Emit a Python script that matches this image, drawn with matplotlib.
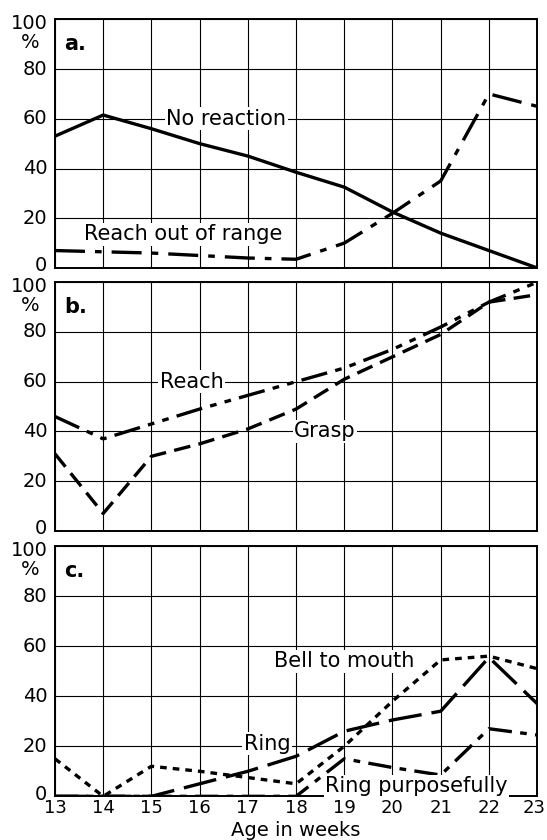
import matplotlib
matplotlib.use("Agg")
import matplotlib.pyplot as plt
import matplotlib.transforms as mtransforms

weeks = [13, 14, 15, 16, 17, 18, 19, 20, 21, 22, 23]

# Panel a
no_reaction = [53, 61.5, 56, 50, 45, 38.5, 32.5, 22.5, 14, 7, 0]
reach_out_of_range = [7, 6.5, 6, 5, 4, 3.5, 10, 22, 35, 70, 65]

# Panel b
reach = [46, 37, 43, 49, 54.5, 60, 65.5, 73, 82, 92, 100]
grasp = [31, 7, 30, 35, 41, 49, 61, 70, 79, 92, 95]

# Panel c
bell_to_mouth = [15, 0, 12, 10, 7.5, 5, 20, 38, 54.5, 56, 51]
ring = [0, 0, 0, 5, 10, 16, 26, 30.5, 34, 55.5, 37]
ring_purposefully = [0, 0, 0, 0, 0, 0, 15, 11.5, 8.5, 27, 24.5]

y_ticks = [0, 20, 40, 60, 80, 100]

plt.rcParams["font.family"] = "DejaVu Sans"
fig = plt.figure(figsize=(5.47, 8.4), dpi=100)

boxes = [
    [0.1005, 0.681, 0.8815, 0.296],
    [0.1005, 0.368, 0.8815, 0.296],
    [0.1005, 0.052, 0.8815, 0.298],
]
axs = [fig.add_axes(b) for b in boxes]

LW = 2.4
TICK_FS = 14
LABEL_FS = 15
white = dict(facecolor="white", edgecolor="none", pad=1)


def style(ax, letter, show_x):
    ax.set_xlim(13, 23)
    ax.set_ylim(0, 100)
    ax.set_xticks(weeks)
    ax.set_yticks(y_ticks)
    ax.set_xticklabels([])
    ax.set_yticklabels([])
    ax.grid(True, color="black", linewidth=0.8)
    ax.set_axisbelow(True)
    ax.tick_params(length=0)
    for s in ax.spines.values():
        s.set_linewidth(1.4)
    # y labels drawn by hand so "100" can sit a little below the top edge
    trans = ax.get_yaxis_transform()
    for v in y_ticks:
        t = trans
        if v == 100:
            t = mtransforms.offset_copy(trans, fig=fig, y=-4, units="dots")
        elif v == 0:
            t = mtransforms.offset_copy(trans, fig=fig, y=2, units="dots")
        ax.text(-0.016, v, str(v), transform=t, ha="right", va="center", fontsize=TICK_FS)
    ax.text(-0.052, 0.905, "%", transform=ax.transAxes, ha="center", va="center",
            fontsize=TICK_FS)
    ax.text(13.2, 90, letter, fontsize=15, fontweight="bold", ha="left", va="center",
            bbox=white)
    if show_x:
        xtrans = ax.get_xaxis_transform()
        for w in weeks:
            t = xtrans
            if w == weeks[-1]:
                t = mtransforms.offset_copy(xtrans, fig=fig, x=-3, units="dots")
            ax.text(w, -0.012, str(w), transform=t, ha="center", va="top", fontsize=13)


# a.
ax = axs[0]
style(ax, "a.", False)
ax.plot(weeks, no_reaction, color="black", lw=LW, solid_capstyle="round")
ax.plot(weeks, reach_out_of_range, color="black", lw=LW, dashes=(9, 3, 2, 3))
ax.text(16.55, 60, "No reaction", fontsize=LABEL_FS, ha="center", va="center", bbox=white)
ax.text(15.65, 13.5, "Reach out of range", fontsize=LABEL_FS, ha="center", va="center",
        bbox=white)

# b.
ax = axs[1]
style(ax, "b.", False)
ax.plot(weeks, reach, color="black", lw=LW, dashes=(8, 2.5, 2, 2.5, 2, 2.5))
ax.plot(weeks, grasp, color="black", lw=LW, dashes=(5, 2.5))
ax.text(15.83, 60, "Reach", fontsize=LABEL_FS, ha="center", va="center", bbox=white)
ax.text(18.6, 40, "Grasp", fontsize=LABEL_FS, ha="center", va="center", bbox=white)

# c.
ax = axs[2]
style(ax, "c.", True)
ax.plot(weeks, bell_to_mouth, color="black", lw=LW, dashes=(2, 1.8))
ax.plot(weeks, ring, color="black", lw=LW, dashes=(10, 3))
ax.plot(weeks, ring_purposefully, color="black", lw=LW, dashes=(7, 2.5, 2, 2.5))
ax.text(19.0, 54, "Bell to mouth", fontsize=LABEL_FS, ha="center", va="center", bbox=white)
ax.text(17.4, 21, "Ring", fontsize=LABEL_FS, ha="center", va="center", bbox=white)
ax.text(20.5, 4, "Ring purposefully", fontsize=LABEL_FS, ha="center", va="center",
        bbox=white)

fig.text(0.54, 0.0, "Age in weeks", fontsize=14, ha="center", va="bottom")

fig.savefig("out.png", dpi=100)
